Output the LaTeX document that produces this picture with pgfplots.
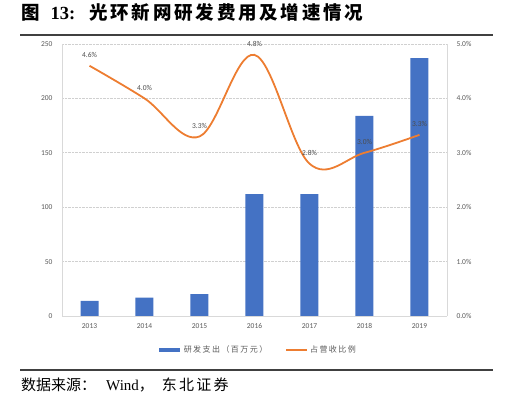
\documentclass[border=0pt]{standalone}
\usepackage{pgfplots}
\pgfplotsset{compat=1.18}
\usepackage{fontspec}
\setmainfont{Liberation Serif}
\newfontfamily\cjk{Noto Sans CJK SC}
\newfontfamily\cjksp[LetterSpace=15]{Noto Sans CJK SC}
\newfontfamily\cjkleg[LetterSpace=18]{Noto Sans CJK SC}
\newfontfamily\lab{Carlito}
\definecolor{barblue}{HTML}{4472C4}
\definecolor{lineor}{HTML}{ED7D31}
\definecolor{tickgray}{HTML}{595959}
\definecolor{gridgray}{HTML}{D0D0D0}
\definecolor{axgray}{HTML}{D9D9D9}
\begin{document}
\begin{tikzpicture}[x=1pt,y=1pt]
\useasboundingbox (0,0) rectangle (514,398);
\node[anchor=west, inner sep=0pt, font=\fontsize{18.5}{20}\selectfont\bfseries] at (21,386) {{\cjk 图}\hspace{11pt}13:\hspace{14pt}{\cjksp 光环新网研发费用及增速情况}};
\draw[line width=1.1pt, black!75] (20,363) -- (493,363);
\draw[line width=1.1pt, black!75] (20,28) -- (493,28);
\node[anchor=west, inner sep=0pt, font=\fontsize{15}{17}\selectfont] at (21,13) {{\cjk 数据来源：}\hspace{10pt}Wind{\cjk ，}\hspace{8pt}{\cjksp 东北证券}};
\pgfplotsset{
  common/.style={
    at={(62pt,82pt)}, anchor=south west, scale only axis,
    width=385pt, height=272pt,
    xmin=-0.5, xmax=6.5,
    major tick length=0pt,
    /pgf/number format/assume math mode=true,
    ticklabel style={font=\lab\fontsize{7.5}{9}\selectfont, text=tickgray},
    axis line style={draw=axgray, line width=0.8pt},
  }
}
\begin{axis}[common,
  ymin=0, ymax=250, ytick={0,50,...,250},
  xtick={0,...,6}, xticklabels={2013,2014,2015,2016,2017,2018,2019},
  axis y line*=left, axis x line*=bottom,
  ymajorgrids, grid style={densely dotted, gridgray, line width=0.6pt},
  yticklabel style={xshift=-6pt}, xticklabel style={yshift=-4pt},
]
\addplot[ybar, bar width=18pt, fill=barblue, draw=none] coordinates {(0,14) (1,17) (2,20) (3,112) (4,112) (5,184) (6,237)};
\end{axis}
\begin{axis}[common,
  ymin=0, ymax=5, ytick={0,1,...,5},
  yticklabel={\pgfmathprintnumber[fixed,fixed zerofill,precision=1]{\tick}\%},
  axis y line*=right, axis x line=none,
  yticklabel style={xshift=6pt},
  legend style={at={(0.508,-0.125)}, anchor=center, draw=none, fill=none,
    legend columns=2, font=\cjkleg\fontsize{8}{9}\selectfont, text=tickgray,
    legend image code/.code={\draw[#1] (0pt,0pt) -- (21pt,0pt);},
    /tikz/every even column/.append style={column sep=16pt}},
]
\addlegendimage{barblue, line width=3.5pt}
\addlegendentry{研发支出（百万元）}
\addlegendimage{lineor, line width=1.8pt}
\addlegendentry{占营收比例}
\addplot[lineor, line width=1.8pt, smooth, tension=0.6, forget plot,
  point meta=y,
  nodes near coords={\pgfmathprintnumber[fixed,fixed zerofill,precision=1]{\pgfplotspointmeta}\%},
  every node near coord/.append style={font=\lab\fontsize{7.5}{9}\selectfont, text=tickgray!85!black, anchor=south, yshift=4pt}]
  coordinates {(0,4.6) (1,4.0) (2,3.3) (3,4.8) (4,2.8) (5,3.0) (6,3.33)};
\end{axis}
\end{tikzpicture}
\end{document}
